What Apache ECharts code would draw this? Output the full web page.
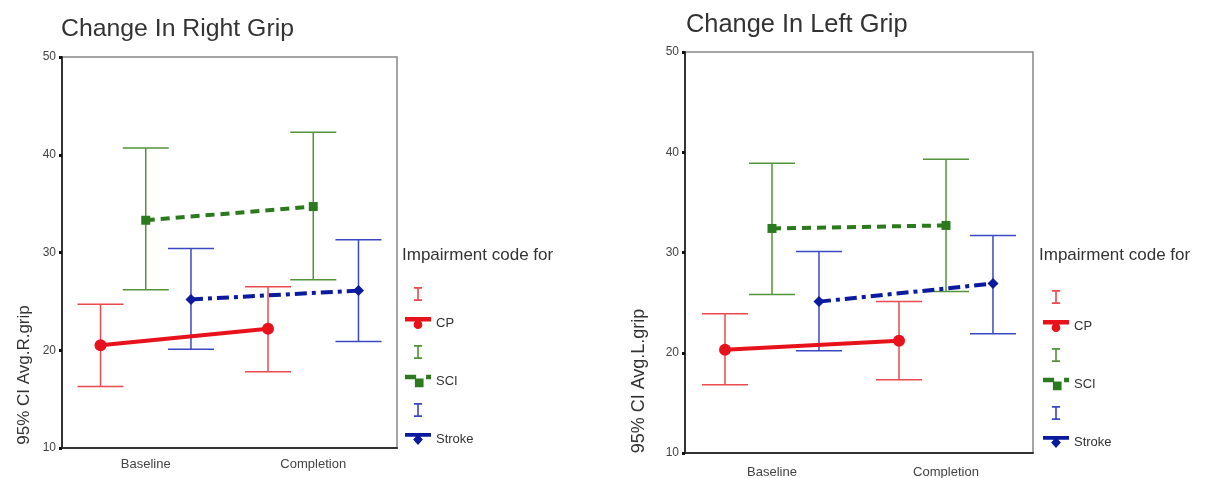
<!DOCTYPE html>
<html lang="en">
<head>
    <meta charset="UTF-8">
    <title>Change In Grip</title>
    <style>
        html, body { margin: 0; padding: 0; background: #fff; }
        #chart { width: 1207px; height: 478px; }
    </style>
</head>
<body>
    <div id="chart"></div>
    <script src="https://cdn.jsdelivr.net/npm/echarts@6/dist/echarts.min.js"></script>
    <script>
        let categories = ['Baseline', 'Completion'];
        let groups = ['CP', 'SCI', 'Stroke'];

        // Change In Right Grip
        let rightCpMean = [20.5, 22.2];
        let rightCpLow = [16.3, 17.8];
        let rightCpHigh = [24.7, 26.5];
        let rightSciMean = [33.3, 34.7];
        let rightSciLow = [26.2, 27.2];
        let rightSciHigh = [40.7, 42.3];
        let rightStrokeMean = [25.2, 26.1];
        let rightStrokeLow = [20.1, 20.9];
        let rightStrokeHigh = [30.4, 31.3];

        // Change In Left Grip
        let leftCpMean = [20.3, 21.2];
        let leftCpLow = [16.8, 17.3];
        let leftCpHigh = [23.9, 25.1];
        let leftSciMean = [32.4, 32.7];
        let leftSciLow = [25.8, 26.1];
        let leftSciHigh = [38.9, 39.3];
        let leftStrokeMean = [25.1, 26.9];
        let leftStrokeLow = [20.2, 21.9];
        let leftStrokeHigh = [30.1, 31.7];

        let yTicks = [10, 20, 30, 40, 50];

        // look
        let font = 'Liberation Sans, Arial, sans-serif';
        let groupOffset = [-0.27, 0, 0.27];
        let lineColor = ['#e8121c', '#2c7a1e', '#0b1a9e'];
        let barColor = ['#ea4a50', '#55933a', '#3a49c2'];
        let lineType = ['solid', [9, 6], [12, 5, 4, 5]];
        let symbols = ['circle', 'rect', 'diamond'];
        let symbolSizes = [12, 9, 11];
        let iconI = 'path://M0,0H7V1.6H4.2V10.4H7V12H0V10.4H2.8V1.6H0Z';
        let iconLines = [
            'path://M0,0H24V4H0Z M8,7A4,4,0,1,1,16,7A4,4,0,1,1,8,7Z',
            'path://M0,0H9V3.5H0Z M8,3H15V10H8Z M17,0H21V3.5H17Z',
            'path://M0,0H24V3.5H0Z M12,1L16.5,6L12,11L7.5,6Z'
        ];

        let panels = [
            {
                title: 'Change In Right Grip', yName: '95% CI Avg.R.grip', titleSize: 24.8,
                mean: [rightCpMean, rightSciMean, rightStrokeMean],
                low: [rightCpLow, rightSciLow, rightStrokeLow],
                high: [rightCpHigh, rightSciHigh, rightStrokeHigh],
                grid: { left: 62, top: 57, width: 335, height: 391 },
                titlePos: { left: 56, top: 12 }, legendPos: { left: 400, top: 282 },
                headPos: { left: 397, top: 242 }, nameGap: 29, namePad: 245, nameSize: 17, labelMargin: 10
            },
            {
                title: 'Change In Left Grip', yName: '95% CI Avg.L.grip', titleSize: 25.4,
                mean: [leftCpMean, leftSciMean, leftStrokeMean],
                low: [leftCpLow, leftSciLow, leftStrokeLow],
                high: [leftCpHigh, leftSciHigh, leftStrokeHigh],
                grid: { left: 685, top: 52, width: 348, height: 401 },
                titlePos: { left: 681, top: 7 }, legendPos: { left: 1038, top: 285 },
                headPos: { left: 1034, top: 242 }, nameGap: 37, namePad: 257, nameSize: 18, labelMargin: 13
            }
        ];

        function errorBar(params, api) {
            let x = api.value(0);
            let lo = api.coord([x, api.value(1)]);
            let hi = api.coord([x, api.value(2)]);
            let w = 23;
            let style = { stroke: api.visual('color'), lineWidth: 1.5 };
            return {
                type: 'group',
                children: [
                    { type: 'line', shape: { x1: lo[0], y1: lo[1], x2: hi[0], y2: hi[1] }, style: style },
                    { type: 'line', shape: { x1: lo[0] - w, y1: lo[1], x2: lo[0] + w, y2: lo[1] }, style: style },
                    { type: 'line', shape: { x1: hi[0] - w, y1: hi[1], x2: hi[0] + w, y2: hi[1] }, style: style }
                ]
            };
        }

        let option = {
            backgroundColor: '#fff',
            animation: false,
            title: [],
            legend: [],
            grid: [],
            xAxis: [],
            yAxis: [],
            series: []
        };

        panels.forEach(function(p, pi) {
            option.title.push({
                text: p.title, left: p.titlePos.left, top: p.titlePos.top,
                textStyle: { fontFamily: font, fontSize: p.titleSize, fontWeight: 'normal', color: '#333' }
            });
            option.title.push({
                text: 'Impairment code for', left: p.headPos.left, top: p.headPos.top,
                textStyle: { fontFamily: font, fontSize: 17, fontWeight: 'normal', color: '#333' }
            });

            let legendData = [];
            groups.forEach(function(g, gi) {
                legendData.push({ name: g + ' CI', icon: iconI, itemStyle: { color: barColor[gi] } });
                legendData.push({ name: g, icon: iconLines[gi], itemStyle: { color: lineColor[gi], borderWidth: 0 } });
            });
            option.legend.push({
                data: legendData, orient: 'vertical', left: p.legendPos.left, top: p.legendPos.top,
                itemWidth: 26, itemHeight: 14, itemGap: 15.5, selectedMode: false,
                formatter: function(name) { return / CI$/.test(name) ? '' : name; },
                textStyle: { fontFamily: font, fontSize: 13, color: '#333', padding: [6, 0, 0, 0] }
            });

            option.grid.push(Object.assign({
                show: true, borderColor: '#888', borderWidth: 1.5, outerBoundsMode: 'none'
            }, p.grid));

            // visible category axis for labels and ticks
            option.xAxis.push({
                type: 'category', gridIndex: pi, data: categories, boundaryGap: true,
                axisLine: { lineStyle: { color: '#333', width: 2 } },
                axisTick: { alignWithLabel: true, length: 3, lineStyle: { color: '#111', width: 3 } },
                axisLabel: { fontFamily: font, fontSize: 13, color: '#444', margin: p.labelMargin },
                splitLine: { show: false }
            });
            // hidden value axis that carries the group offsets
            option.xAxis.push({
                type: 'value', gridIndex: pi, min: 0.5, max: 2.5, show: false
            });

            option.yAxis.push({
                type: 'value', gridIndex: pi, min: yTicks[0], max: yTicks[yTicks.length - 1],
                interval: yTicks[1] - yTicks[0],
                name: p.yName, nameLocation: 'middle', nameRotate: 90, nameGap: p.nameGap,
                nameTextStyle: { fontFamily: font, fontSize: p.nameSize, color: '#333', padding: [0, p.namePad, 0, 0] },
                axisLine: { show: true, lineStyle: { color: '#333', width: 2 } },
                axisTick: { show: true, length: 3, lineStyle: { color: '#111', width: 3 } },
                axisLabel: { fontFamily: font, fontSize: 12, color: '#444', margin: 6 },
                splitLine: { show: false }
            });

            groups.forEach(function(g, gi) {
                let barData = categories.map(function(c, ci) {
                    return [ci + 1 + groupOffset[gi], p.low[gi][ci], p.high[gi][ci]];
                });
                let lineData = categories.map(function(c, ci) {
                    return [ci + 1 + groupOffset[gi], p.mean[gi][ci]];
                });
                option.series.push({
                    name: g + ' CI', type: 'custom', xAxisIndex: pi * 2 + 1, yAxisIndex: pi,
                    renderItem: errorBar, encode: { x: 0, y: [1, 2] }, data: barData,
                    itemStyle: { color: barColor[gi] }, z: 2
                });
                option.series.push({
                    name: g, type: 'line', xAxisIndex: pi * 2 + 1, yAxisIndex: pi, data: lineData,
                    symbol: symbols[gi], symbolSize: symbolSizes[gi],
                    lineStyle: { color: lineColor[gi], width: 4, type: lineType[gi] },
                    itemStyle: { color: lineColor[gi] }, z: 3
                });
            });
        });

        let myChart = echarts.init(document.getElementById('chart'));
        myChart.setOption(option);
    </script>
</body>
</html>
